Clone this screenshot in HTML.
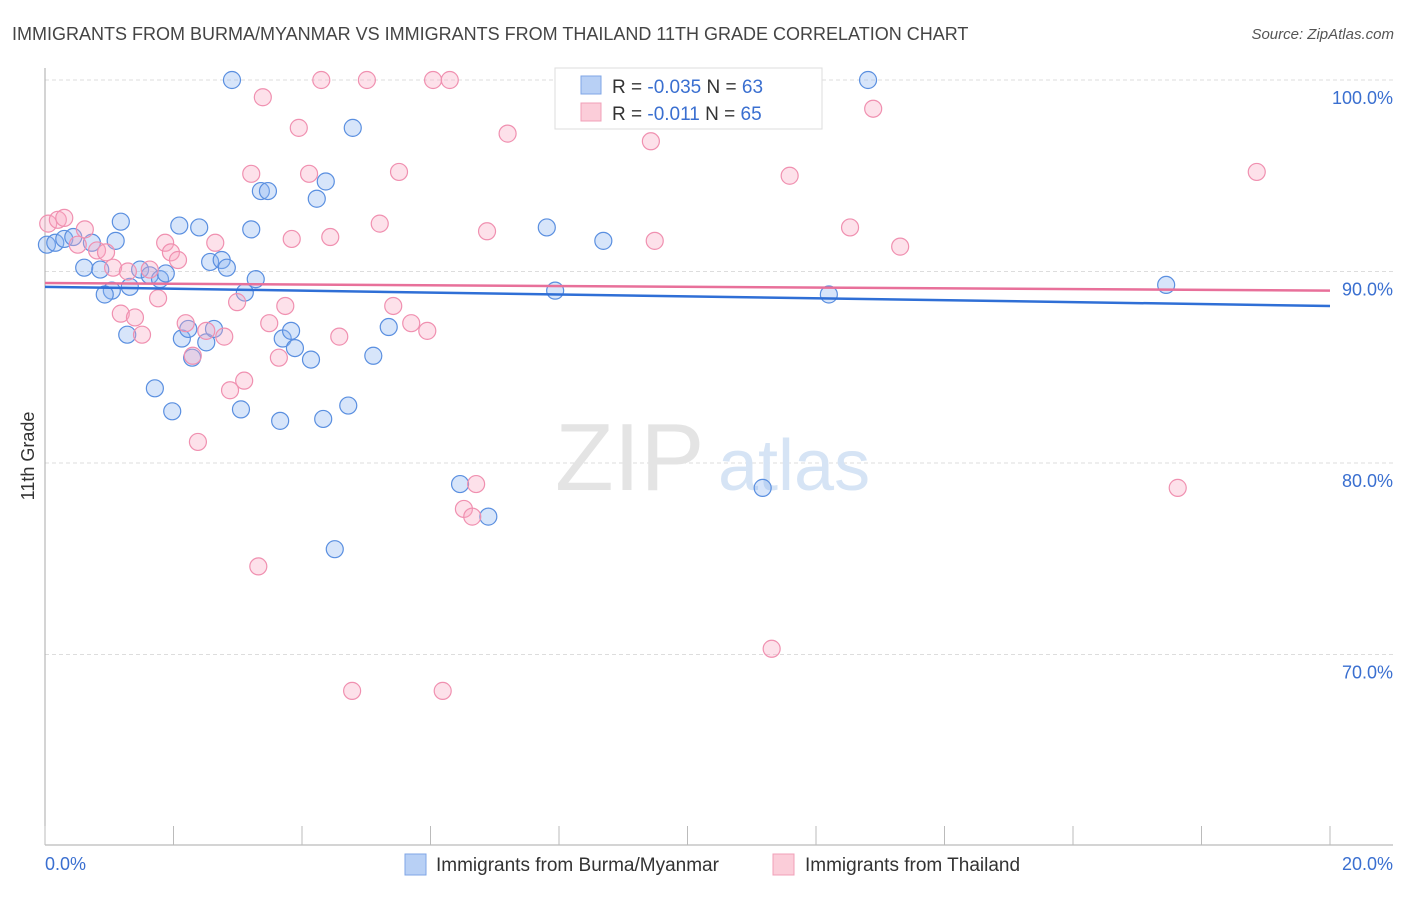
<!DOCTYPE html>
<html><head><meta charset="utf-8"><style>
body{margin:0;background:#fff;font-family:"Liberation Sans",sans-serif;}
svg text{font-family:"Liberation Sans",sans-serif;}
</style></head><body>
<svg id="chart" width="1406" height="892" viewBox="0 0 1406 892" xmlns="http://www.w3.org/2000/svg">
<text x="12" y="40" font-size="18" fill="#444">IMMIGRANTS FROM BURMA/MYANMAR VS IMMIGRANTS FROM THAILAND 11TH GRADE CORRELATION CHART</text>
<text x="1394" y="39" font-size="15" fill="#555" font-style="italic" text-anchor="end">Source: ZipAtlas.com</text>
<g id="grid"></g>
<g>
<text x="555" y="490" font-size="96" fill="#e4e4e4" font-family="Liberation Serif,serif">ZIP</text>
<text x="718" y="490" font-size="72" fill="#d6e4f5">atlas</text>
</g>
<g id="points"></g>
<g id="trends"></g>
<text transform="translate(34,456) rotate(-90)" font-size="18" fill="#333" text-anchor="middle">11th Grade</text>
<text x="45" y="870" font-size="18" fill="#3a6fd0">0.0%</text>
<text x="1393" y="870" font-size="18" fill="#3a6fd0" text-anchor="end">20.0%</text>
<g>
<rect x="555" y="68" width="267" height="61" fill="#fff" stroke="#ddd"/>
<rect x="581" y="76" width="20" height="18" fill="#b8d0f5" stroke="#7fa6e6"/>
<rect x="581" y="103" width="20" height="18" fill="#fbcdd9" stroke="#f0a0b8"/>
<text x="612" y="93" font-size="19" fill="#333">R = <tspan fill="#3a6fd0">-0.035</tspan>   N = <tspan fill="#3a6fd0">63</tspan></text>
<text x="612" y="120" font-size="19" fill="#333">R =  <tspan fill="#3a6fd0"> -0.011</tspan>   N = <tspan fill="#3a6fd0">65</tspan></text>
</g>
<g>
<rect x="405" y="854" width="21" height="21" fill="#b8d0f5" stroke="#7fa6e6"/>
<text x="436" y="871" font-size="19" fill="#333">Immigrants from Burma/Myanmar</text>
<rect x="773" y="854" width="21" height="21" fill="#fbcdd9" stroke="#f0a0b8"/>
<text x="805" y="871" font-size="19" fill="#333">Immigrants from Thailand</text>
</g>
</svg>
<script>
const yTicks=[100,90,80,70];
const yTickLabels=["100.0%","90.0%","80.0%","70.0%"];
const xTicks=[0,2,4,6,8,10,12,14,16,18,20];
const burmaX=[2.91,4.79,12.81,3.36,3.47,4.37,4.23,3.21,2.09,2.40,1.18,7.81,8.69,1.10,0.03,0.16,0.30,0.44,0.73,0.61,0.86,1.48,1.63,1.79,1.88,2.57,2.75,2.83,3.28,3.11,1.32,1.04,0.93,7.94,12.20,17.45,1.28,2.13,2.23,2.51,2.63,2.29,3.70,3.83,3.89,4.14,5.35,5.11,1.71,1.98,3.05,3.66,4.33,4.72,6.46,6.90,11.17,4.51];
const burmaY=[100,97.5,100,94.2,94.2,94.7,93.8,92.2,92.4,92.3,92.6,92.3,91.6,91.6,91.4,91.5,91.7,91.8,91.5,90.2,90.1,90.1,89.8,89.6,89.9,90.5,90.6,90.2,89.6,88.9,89.2,89.0,88.8,89.0,88.8,89.3,86.7,86.5,87.0,86.3,87.0,85.5,86.5,86.9,86.0,85.4,87.1,85.6,83.9,82.7,82.8,82.2,82.3,83.0,78.9,77.2,78.7,75.5];
const thaiX=[4.30,5.01,6.04,6.30,3.39,12.89,3.95,7.20,9.43,5.51,3.21,4.11,11.59,18.86,0.05,0.20,0.30,0.62,5.21,6.88,12.53,4.44,3.84,9.49,13.31,1.87,2.65,1.96,2.07,0.81,0.95,0.51,1.06,1.29,1.63,1.76,1.18,1.40,1.51,2.19,2.51,2.79,3.49,2.99,3.74,5.42,5.70,5.95,4.58,3.64,2.30,3.10,2.88,2.38,6.71,6.52,6.65,17.63,3.32,11.31,4.78,6.19];
const thaiY=[100,100,100,100,99.1,98.5,97.5,97.2,96.8,95.2,95.1,95.1,95.0,95.2,92.5,92.7,92.8,92.2,92.5,92.1,92.3,91.8,91.7,91.6,91.3,91.5,91.5,91.0,90.6,91.1,91.0,91.4,90.2,90.0,90.1,88.6,87.8,87.6,86.7,87.3,86.9,86.6,87.3,88.4,88.2,88.2,87.3,86.9,86.6,85.5,85.6,84.3,83.8,81.1,78.9,77.6,77.2,78.7,74.6,70.3,68.1,68.1];
const burmaTrend=[89.2,88.2];
const thaiTrend=[89.4,89.0];
const X0=45,X1=1330,Y100=80,PX10=191.5;
function sx(v){return X0+(v/20)*(X1-X0);}
function sy(v){return Y100+(100-v)*PX10/10;}
const NS="http://www.w3.org/2000/svg";
function mk(tag,attrs,parent){const e=document.createElementNS(NS,tag);for(const k in attrs)e.setAttribute(k,attrs[k]);parent.appendChild(e);return e;}
const grid=document.getElementById('grid');
yTicks.forEach((t,i)=>{
 const l=mk('line',{x1:45,x2:1393,y1:sy(t),y2:sy(t),stroke:'#ddd','stroke-dasharray':'4,3'},grid);
 
 
 const tx=mk('text',{x:1393,y:sy(t)+24,'font-size':18,fill:'#3a6fd0','text-anchor':'end'},grid);
 tx.textContent=yTickLabels[i];
 
 
});
const ya=mk('line',{x1:45,x2:45,y1:68,y2:845,stroke:'#aaa'},grid);


const xa=mk('line',{x1:45,x2:1393,y1:845,y2:845,stroke:'#aaa'},grid);


xTicks.forEach(t=>{
 const l=mk('line',{x1:sx(t),x2:sx(t),y1:826,y2:845,stroke:'#bbb'},grid);
 
 
});
const pts=document.getElementById('points');
burmaX.forEach((v,i)=>{
 const c=mk('circle',{cx:sx(v),cy:sy(burmaY[i]),r:8.5,fill:'rgba(140,180,240,0.35)',stroke:'#5a8fe0','stroke-width':1.2},pts);
 
 
});
thaiX.forEach((v,i)=>{
 const c=mk('circle',{cx:sx(v),cy:sy(thaiY[i]),r:8.5,fill:'rgba(248,170,195,0.35)',stroke:'#f090b0','stroke-width':1.2},pts);
 
 
});
const tr=document.getElementById('trends');
const bt=mk('line',{x1:sx(0),x2:sx(20),y1:sy(burmaTrend[0]),y2:sy(burmaTrend[1]),stroke:'#2f6fd6','stroke-width':2.5},tr);


const tt=mk('line',{x1:sx(0),x2:sx(20),y1:sy(thaiTrend[0]),y2:sy(thaiTrend[1]),stroke:'#e8709a','stroke-width':2.5},tr);


</script>
</body></html>
